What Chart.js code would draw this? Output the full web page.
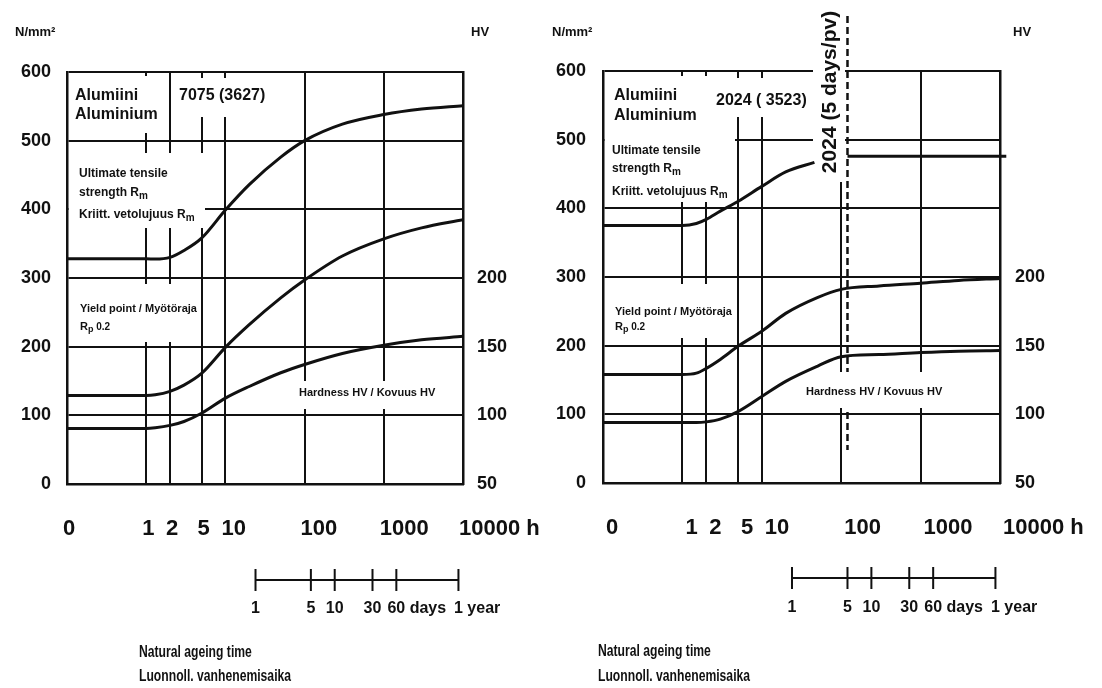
<!DOCTYPE html>
<html>
<head>
<meta charset="utf-8">
<title>Natural ageing of aluminium 7075 and 2024</title>
<script src="https://cdn.jsdelivr.net/npm/chart.js@4.4.1/dist/chart.umd.min.js"></script>
<style>
html,body{margin:0;padding:0;background:#fff;overflow:hidden;}
#wrap{position:relative;width:1102px;height:688px;background:#fff;}
#wrap canvas{position:absolute;top:0;}
</style>
</head>
<body>
<div id="wrap">
<canvas id="left" width="551" height="688" style="left:0px"></canvas>
<canvas id="right" width="551" height="688" style="left:551px"></canvas>
</div>
<script>
// ---------------- data ----------------
const hourTicks = [0.1, 1, 2, 5, 10, 100, 1000, 10000];
const hourTickLabels = ['0', '1', '2', '5', '10', '100', '1000', '10000 h'];
const strengthTicks = [0, 100, 200, 300, 400, 500, 600];
const hardnessTicks = [50, 100, 150, 200];
const dayTicksInHours = [24, 120, 240, 720, 1440, 8760];
const dayTickNumbers = ['1', '5', '10', '30', '60', '1'];
const dayTickUnits = ['', '', '', '', ' days', ' year'];

// 7075 (3627)
const hours7075 = [0.1, 1, 1.3, 2, 3, 5, 10, 20, 50, 100, 300, 1000, 3000, 10000];
const rm7075 = [328, 328, 327.5, 330, 340, 358, 399, 436, 476, 500, 524, 538, 546, 551];
const rp7075 = [129, 129, 130, 135, 144, 161, 199, 232, 271, 297, 332, 357, 373, 385];
const hv7075 = [90.5, 90.5, 91, 92.7, 95.5, 101.5, 112.5, 121, 131, 137, 145, 151, 155, 157.5];

// 2024 (3523)
const hours2024rm = [0.1, 1, 1.5, 2, 3, 5, 10, 20, 46];
const rm2024 = [375, 375, 378, 384, 396, 410, 432, 453, 467];
const hours2024rmAged = [120, 12000];
const rm2024Aged = [476, 476];
const hours2024 = [0.1, 1, 1.5, 2, 3, 5, 10, 20, 50, 100, 300, 1000, 3000, 10000];
const rp2024 = [158, 158, 160, 167, 180, 199, 221, 247, 270, 282, 287, 291, 295, 298];
const hv2024 = [94, 94, 94, 94.5, 96.5, 102, 113, 124, 135, 142, 143.5, 145, 146, 146.5];
const agedAtHours = 120;          // 5 days
const agedLineRange = [680, 48];  // N/mm² extent of the dashed marker

// ---------------- styling ----------------
const INK = '#111';
const SANS = '"Liberation Sans", Arial, Helvetica, sans-serif';
const xTickFont = {family: SANS, size: 22, weight: 'bold'};
const yTickFont = {family: SANS, size: 18, weight: 'bold'};

function F(spec) { return spec + ' ' + SANS; }

function drawParts(ctx, parts, x, y, opts) {
  opts = opts || {};
  ctx.save();
  ctx.fillStyle = INK;
  ctx.textBaseline = 'middle';
  ctx.textAlign = 'left';
  ctx.translate(x, y);
  if (opts.rot) ctx.rotate(opts.rot);
  const sx = opts.sx || 1;
  ctx.scale(sx, 1);
  let total = 0;
  parts.forEach(p => { ctx.font = F(p.f); total += ctx.measureText(p.t).width; });
  let cx = opts.align === 'center' ? -total / 2 : 0;
  parts.forEach(p => {
    ctx.font = F(p.f);
    ctx.fillText(p.t, cx, p.dy || 0);
    cx += ctx.measureText(p.t).width;
  });
  ctx.restore();
}

function makeAnnotator(P) {
  return {
    id: 'annotate_' + P.name,
    beforeDatasetsDraw(chart) {
      const ctx = chart.ctx;
      const xs = chart.scales.x, ys = chart.scales.y;
      if (P.aged) {
        const x = xs.getPixelForValue(agedAtHours);
        ctx.save();
        ctx.strokeStyle = INK; ctx.lineWidth = 2.5; ctx.setLineDash([7, 4]);
        ctx.beginPath();
        ctx.moveTo(x, ys.getPixelForValue(agedLineRange[0]));
        ctx.lineTo(x, ys.getPixelForValue(agedLineRange[1]));
        ctx.stroke();
        ctx.restore();
      }
      ctx.save();
      ctx.fillStyle = '#fff';
      P.boxes.forEach(b => ctx.fillRect(b[0], b[1], b[2] - b[0], b[3] - b[1]));
      ctx.restore();
      P.texts.forEach(t => drawParts(ctx, t.parts, t.x, t.y, t));
    },
    afterDraw(chart) {
      const ctx = chart.ctx;
      const xs = chart.scales.x;
      const px = dayTicksInHours.map(h => xs.getPixelForValue(h));
      ctx.save();
      ctx.strokeStyle = INK; ctx.lineWidth = 2;
      ctx.beginPath();
      ctx.moveTo(px[0], P.dayY); ctx.lineTo(px[px.length - 1], P.dayY);
      px.forEach(x => { ctx.moveTo(x, P.dayY - 11); ctx.lineTo(x, P.dayY + 11); });
      ctx.stroke();
      ctx.fillStyle = INK; ctx.textBaseline = 'middle';
      ctx.font = F('bold 16px');
      px.forEach((x, i) => {
        const w = ctx.measureText(dayTickNumbers[i]).width;
        ctx.textAlign = 'center';
        ctx.fillText(dayTickNumbers[i], x, P.dayLabelY);
        if (dayTickUnits[i]) {
          ctx.textAlign = 'left';
          ctx.fillText(dayTickUnits[i], x + w / 2, P.dayLabelY);
        }
      });
      ctx.restore();
      drawParts(ctx, [{t: 'Natural ageing time', f: 'bold 16px'}], P.natX, P.natY1, {sx: 0.76});
      drawParts(ctx, [{t: 'Luonnoll. vanhenemisaika', f: 'bold 16px'}], P.natX, P.natY2, {sx: 0.76});
      drawParts(ctx, [{t: 'N/mm²', f: 'bold 13px'}], P.unitX, 32);
      drawParts(ctx, [{t: 'HV', f: 'bold 13px'}], P.hvX, 32);
    }
  };
}

function sub(main, s, f1, f2) {
  return [{t: main, f: f1}, {t: s, f: f2, dy: 3}];
}

const panels = {
  left: {
    name: 'left', yWidth: 67, y2Width: 60, padRight: 28, padTop: 72, xHeight: 60, padBottom: 144,
    yPad: 16, y2Pad: 14, xLabelOffset: -4, dayY: 580, dayLabelY: 609,
    natX: 139, natY1: 653, natY2: 677, unitX: 15, hvX: 471, aged: false,
    boxes: [[69, 76, 168, 133], [172, 78, 270, 117], [69, 153, 205, 228], [69, 284, 200, 342], [294, 381, 442, 409]],
    texts: [
      {parts: [{t: 'Alumiini', f: 'bold 16px'}], x: 75, y: 96},
      {parts: [{t: 'Aluminium', f: 'bold 16px'}], x: 75, y: 115},
      {parts: [{t: '7075 (3627)', f: 'bold 16px'}], x: 179, y: 96},
      {parts: [{t: 'Ultimate tensile', f: 'bold 12px'}], x: 79, y: 174},
      {parts: sub('strength R', 'm', 'bold 12px', 'bold 10px'), x: 79, y: 193},
      {parts: sub('Kriitt. vetolujuus R', 'm', 'bold 12px', 'bold 10px'), x: 79, y: 215},
      {parts: [{t: 'Yield point / Myötöraja', f: 'bold 11px'}], x: 80, y: 309},
      {parts: [{t: 'R', f: 'bold 11px'}, {t: 'p', f: 'bold 9px', dy: 3}, {t: ' 0.2', f: 'bold 10px'}], x: 80, y: 327},
      {parts: [{t: 'Hardness HV / Kovuus HV', f: 'bold 11px'}], x: 299, y: 393}
    ]
  },
  right: {
    name: 'right', yWidth: 52, y2Width: 60, padRight: 42, padTop: 71, xHeight: 60, padBottom: 145,
    yPad: 17, y2Pad: 15, xLabelOffset: 3, dayY: 578, dayLabelY: 608,
    natX: 47, natY1: 652, natY2: 677, unitX: 1, hvX: 462, aged: true,
    boxes: [[54, 76, 184, 202], [159, 78, 259, 117], [54, 284, 184, 338], [262, 60, 294, 182], [249, 372, 400, 408]],
    texts: [
      {parts: [{t: 'Alumiini', f: 'bold 16px'}], x: 63, y: 96},
      {parts: [{t: 'Aluminium', f: 'bold 16px'}], x: 63, y: 116},
      {parts: [{t: '2024 ( 3523)', f: 'bold 16px'}], x: 165, y: 101},
      {parts: [{t: 'Ultimate tensile', f: 'bold 12px'}], x: 61, y: 151},
      {parts: sub('strength R', 'm', 'bold 12px', 'bold 10px'), x: 61, y: 169},
      {parts: sub('Kriitt. vetolujuus R', 'm', 'bold 12px', 'bold 10px'), x: 61, y: 192},
      {parts: [{t: 'Yield point / Myötöraja', f: 'bold 11px'}], x: 64, y: 312},
      {parts: [{t: 'R', f: 'bold 11px'}, {t: 'p', f: 'bold 9px', dy: 3}, {t: ' 0.2', f: 'bold 10px'}], x: 64, y: 327},
      {parts: [{t: 'Hardness HV / Kovuus HV', f: 'bold 11px'}], x: 255, y: 392},
      {parts: [{t: '2024 (5 days/pv)', f: 'bold 21px'}], x: 279, y: 92, rot: -Math.PI / 2, align: 'center'}
    ]
  }
};

const pts = (xs, ys) => xs.map((x, i) => ({x: x, y: ys[i]}));

function build(id, P, datasets) {
  return new Chart(document.getElementById(id), {
    type: 'line',
    data: {datasets: datasets},
    options: {
      responsive: false, animation: false, devicePixelRatio: 1,
      layout: {padding: {left: 0, top: P.padTop, right: P.padRight, bottom: P.padBottom}},
      plugins: {legend: {display: false}, tooltip: {enabled: false}},
      elements: {
        point: {radius: 0, hoverRadius: 0},
        line: {borderWidth: 3, borderColor: INK, tension: 0.4, cubicInterpolationMode: 'monotone', fill: false}
      },
      scales: {
        x: {
          type: 'logarithmic', position: 'bottom', min: 0.1, max: 10000,
          afterBuildTicks: ax => { ax.ticks = hourTicks.map(v => ({value: v})); },
          afterFit: ax => { ax.height = P.xHeight; ax.paddingLeft = 0; ax.paddingRight = 0; },
          ticks: {
            autoSkip: false, maxRotation: 0, minRotation: 0, align: 'start',
            labelOffset: P.xLabelOffset, padding: 32, color: INK, font: xTickFont,
            callback: v => { const i = hourTicks.indexOf(v); return i >= 0 ? hourTickLabels[i] : ''; }
          },
          grid: {color: INK, lineWidth: 2, drawTicks: false},
          border: {color: INK, width: 2.5}
        },
        y: {
          type: 'linear', position: 'left', min: 0, max: 600,
          afterBuildTicks: ax => { ax.ticks = strengthTicks.map(v => ({value: v})); },
          afterFit: ax => { ax.width = P.yWidth; },
          ticks: {color: INK, font: yTickFont, padding: P.yPad},
          grid: {color: INK, lineWidth: 2, drawTicks: false},
          border: {color: INK, width: 2.5}
        },
        y2: {
          type: 'linear', position: 'right', min: 50, max: 350,
          afterBuildTicks: ax => { ax.ticks = hardnessTicks.map(v => ({value: v})); },
          afterFit: ax => { ax.width = P.y2Width; },
          ticks: {color: INK, font: yTickFont, padding: P.y2Pad},
          grid: {display: false, drawTicks: false},
          border: {color: INK, width: 2.5}
        }
      }
    },
    plugins: [makeAnnotator(P)]
  });
}

build('left', panels.left, [
  {label: 'Ultimate tensile strength Rm', data: pts(hours7075, rm7075), yAxisID: 'y'},
  {label: 'Yield point Rp0.2', data: pts(hours7075, rp7075), yAxisID: 'y'},
  {label: 'Hardness HV', data: pts(hours7075, hv7075), yAxisID: 'y2'}
]);

build('right', panels.right, [
  {label: 'Ultimate tensile strength Rm', data: pts(hours2024rm, rm2024), yAxisID: 'y'},
  {label: 'Ultimate tensile strength Rm (after 5 days)', data: pts(hours2024rmAged, rm2024Aged), yAxisID: 'y', clip: false, tension: 0},
  {label: 'Yield point Rp0.2', data: pts(hours2024, rp2024), yAxisID: 'y'},
  {label: 'Hardness HV', data: pts(hours2024, hv2024), yAxisID: 'y2'}
]);
</script>
</body>
</html>
